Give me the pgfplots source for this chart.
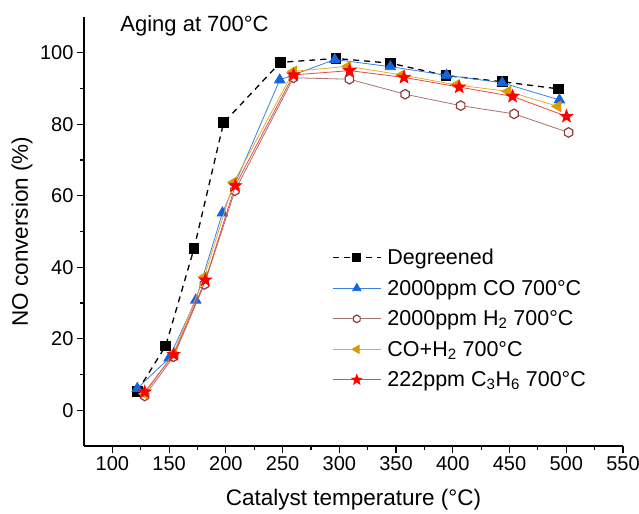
\documentclass[border=0pt]{standalone}
\usepackage{fontspec}
\setmainfont{Liberation Sans}
\usepackage{pgfplots}
\pgfplotsset{compat=1.18}
\usetikzlibrary{plotmarks}

\definecolor{cblue}{HTML}{1466E0}
\definecolor{cbluel}{HTML}{3A82DE}
\definecolor{cbrown}{HTML}{8E3B3B}
\definecolor{cbrownl}{HTML}{A87070}
\definecolor{corange}{HTML}{DB9A00}
\definecolor{corangel}{HTML}{E3AD30}
\definecolor{cred}{HTML}{FF0000}
\definecolor{credl}{HTML}{E84848}

\pgfdeclareplotmark{hexagon}{%
 \pgfpathmoveto{\pgfpointpolar{90}{\pgfplotmarksize}}%
 \pgfpathlineto{\pgfpointpolar{150}{\pgfplotmarksize}}%
 \pgfpathlineto{\pgfpointpolar{210}{\pgfplotmarksize}}%
 \pgfpathlineto{\pgfpointpolar{270}{\pgfplotmarksize}}%
 \pgfpathlineto{\pgfpointpolar{330}{\pgfplotmarksize}}%
 \pgfpathlineto{\pgfpointpolar{30}{\pgfplotmarksize}}%
 \pgfpathclose\pgfusepathqfillstroke}
\pgfdeclareplotmark{fstar}{%
 \pgfpathmoveto{\pgfpointpolar{90}{\pgfplotmarksize}}%
 \pgfpathlineto{\pgfpointpolar{126}{0.42*\pgfplotmarksize}}%
 \pgfpathlineto{\pgfpointpolar{162}{\pgfplotmarksize}}%
 \pgfpathlineto{\pgfpointpolar{198}{0.42*\pgfplotmarksize}}%
 \pgfpathlineto{\pgfpointpolar{234}{\pgfplotmarksize}}%
 \pgfpathlineto{\pgfpointpolar{270}{0.42*\pgfplotmarksize}}%
 \pgfpathlineto{\pgfpointpolar{306}{\pgfplotmarksize}}%
 \pgfpathlineto{\pgfpointpolar{342}{0.42*\pgfplotmarksize}}%
 \pgfpathlineto{\pgfpointpolar{18}{\pgfplotmarksize}}%
 \pgfpathlineto{\pgfpointpolar{54}{0.42*\pgfplotmarksize}}%
 \pgfpathclose\pgfusepathqfillstroke}

\begin{document}
\begin{tikzpicture}
\begin{axis}[
 scale only axis, width=539bp, height=429bp,
 xmin=75, xmax=550, ymin=-10, ymax=110,
 clip mode=individual,
 xtick={100,150,...,550}, minor x tick num=1,
 ytick={0,20,...,100}, minor y tick num=1,
 axis x line*=bottom, axis y line*=left,
 axis line style={line width=1.4bp, -},
 tick align=outside,
 major tick length=7bp, minor tick length=4bp,
 tick style={line width=1.2bp, black},
 /pgf/number format/assume math mode=true,
 tick label style={font=\fontsize{20bp}{24bp}\selectfont},
 label style={font=\fontsize{22.5bp}{27bp}\selectfont},
 xlabel={Catalyst temperature (°C)},
 ylabel={NO conversion (\%)},
 xlabel style={at={(axis description cs:0.5,-0.126)}, anchor=center},
 ylabel style={at={(axis description cs:-0.115,0.5)}, anchor=center},
 legend style={draw=none, fill=none, at={(rel axis cs:0.460,0.462)}, anchor=north west,
   font=\fontsize{21.5bp}{25bp}\selectfont, row sep=12bp, inner sep=0pt,
   nodes={inner sep=1bp}},
 legend cell align=left,
 legend image code/.code={\draw[mark repeat=2,mark phase=2, every mark/.append style={scale=0.8}] plot coordinates {(0bp,0bp)(24bp,0bp)(48bp,0bp)}; \path (53bp,0bp);},
]
\addplot[black, dashed, dash pattern=on 6bp off 5bp, line width=1.3bp, mark=square*, mark size=4.7bp, mark options={solid}]
 coordinates {(122,5.3) (147,18) (172,45.3) (198,80.4) (248,97.3) (297,98.4) (345,97.1) (394,93.6) (443.6,91.9) (493,89.9)};
\addlegendentry{Degreened}
\addplot[cbluel, line width=0.8bp, mark=triangle*, mark size=6bp, mark options={solid, fill=cblue, draw=cblue}]
 coordinates {(122,6.1) (150,14.6) (173.5,30.8) (197,55.2) (247.5,92.4) (296,98.1) (345,96.1) (394.5,93.7) (443.5,91.6) (494,86.8)};
\addlegendentry{2000ppm CO 700°C}
\addplot[cbrownl, line width=0.8bp, mark=hexagon, mark size=4.8bp, mark options={solid, fill=white, draw=cbrown, line width=1.2bp}]
 coordinates {(128.5,4) (154,15) (181,35.2) (208,61.4) (259.6,93) (308.9,92.6) (358,88.4) (407,85.2) (454,82.9) (502,77.7)};
\addlegendentry{2000ppm H\textsubscript{2} 700°C}
\addplot[corangel, line width=0.8bp, mark=triangle*, mark size=6bp, mark options={solid, rotate=90, fill=corange, draw=corange}]
 coordinates {(128.5,4.6) (154,16) (181,37.3) (207,63.8) (259.6,94.8) (307.5,96.2) (355,93.8) (403,91) (448.6,89.2) (492.6,85)};
\addlegendentry{CO+H\textsubscript{2} 700°C}
\addplot[credl, line width=0.8bp, mark=fstar, mark size=6.5bp, mark options={solid, fill=cred, draw=cred}]
 coordinates {(128.5,5.1) (154,15.6) (182,36.4) (208.3,62.8) (259.6,93.8) (309,95) (357,93.1) (405.7,90.4) (452.7,87.8) (500.2,82.2)};
\addlegendentry{222ppm C\textsubscript{3}H\textsubscript{6} 700°C}
\node[anchor=west, font=\fontsize{22bp}{26bp}\selectfont] at (axis cs:104,107.5) {Aging at 700°C};
\end{axis}
\pgfresetboundingbox
\path (current axis.south west) ++(-84bp,-68bp) rectangle ++(639bp,514bp);
\end{tikzpicture}
\end{document}
